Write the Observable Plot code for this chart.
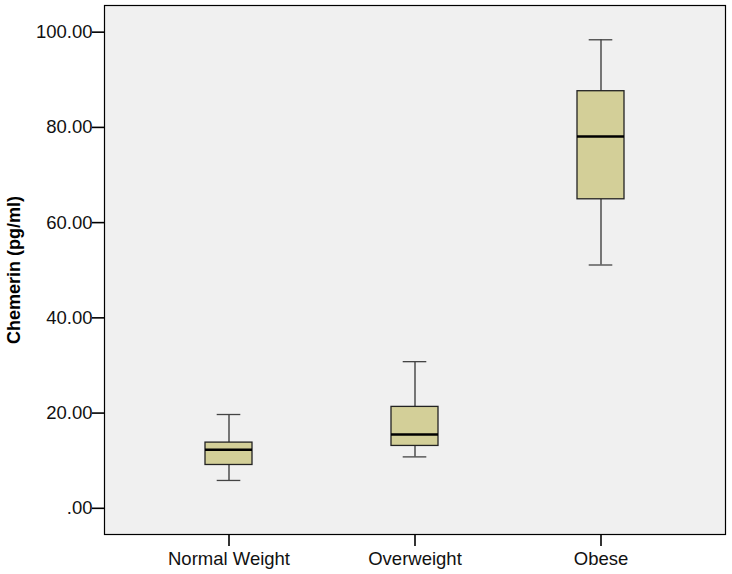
<!DOCTYPE html>
<html>
<head>
<meta charset="utf-8">
<script src="https://cdn.jsdelivr.net/npm/d3@7"></script>
<script src="https://cdn.jsdelivr.net/npm/@observablehq/plot@0.6"></script>
<style>
  html, body { margin: 0; padding: 0; background: #ffffff; }
  #chart svg { display: block; }
</style>
</head>
<body>
<div id="chart"></div>
<script>
const groups = ["Normal Weight", "Overweight", "Obese"];
const whiskerLow = [5.85, 10.8, 51.1];
const q1 = [9.1, 13.1, 64.9];
const median = [12.3, 15.5, 78.1];
const q3 = [13.8, 21.3, 87.6];
const whiskerHigh = [19.7, 30.8, 98.4];
const yTicks = [0, 20, 40, 60, 80, 100];
const yLabel = "Chemerin (pg/ml)";

const rows = groups.map((g, i) => ({
  group: g, lo: whiskerLow[i], q1: q1[i], med: median[i], q3: q3[i], hi: whiskerHigh[i]
}));

const font = "'Liberation Sans', Arial, sans-serif";

const chart = Plot.plot({
  width: 732,
  height: 574,
  marginLeft: 104,
  marginRight: 7,
  marginTop: 5,
  marginBottom: 40,
  style: { fontFamily: font, fontSize: "18.5px", background: "#ffffff", color: "#000" },
  x: {
    type: "band",
    domain: groups,
    paddingInner: 0.75,
    paddingOuter: 0.54,
    label: null
  },
  y: {
    domain: [-5.5, 105.6],
    label: null
  },
  marks: [
    Plot.frame({ fill: "#f0f0f0", stroke: "none" }),
    Plot.ruleX(rows, { x: "group", y1: "lo", y2: "q1", stroke: "#333", strokeWidth: 1.3 }),
    Plot.ruleX(rows, { x: "group", y1: "q3", y2: "hi", stroke: "#333", strokeWidth: 1.3 }),
    Plot.tickY(rows, { x: "group", y: "lo", stroke: "#444", strokeWidth: 1.3, insetLeft: 11.7, insetRight: 11.7 }),
    Plot.tickY(rows, { x: "group", y: "hi", stroke: "#444", strokeWidth: 1.3, insetLeft: 11.7, insetRight: 11.7 }),
    Plot.barY(rows, { x: "group", y1: "q1", y2: "q3", fill: "#d3cf98", stroke: "#222", strokeWidth: 1.3 }),
    Plot.tickY(rows, { x: "group", y: "med", stroke: "#000", strokeWidth: 2.6 }),
    Plot.frame({ stroke: "#000", strokeWidth: 1.2 }),
    Plot.axisY({
      ticks: yTicks,
      tickFormat: d => d === 0 ? ".00" : d.toFixed(2),
      tickSize: 12,
      tickPadding: 0,
      stroke: "#000",
      strokeWidth: 1.6,
      fontSize: 18.5,
      fill: "#111",
      label: null
    }),
    Plot.axisX({
      tickSize: 12,
      tickPadding: 5,
      stroke: "#000",
      strokeWidth: 1.6,
      fontSize: 18.5,
      fill: "#111",
      label: null
    }),
    Plot.text([yLabel], {
      frameAnchor: "left",
      dx: -90.5,
      rotate: -90,
      textAnchor: "middle",
      text: d => d,
      fontWeight: "bold",
      fontSize: 18,
      fill: "#000"
    })
  ]
});

document.getElementById("chart").appendChild(chart);
</script>
</body>
</html>
